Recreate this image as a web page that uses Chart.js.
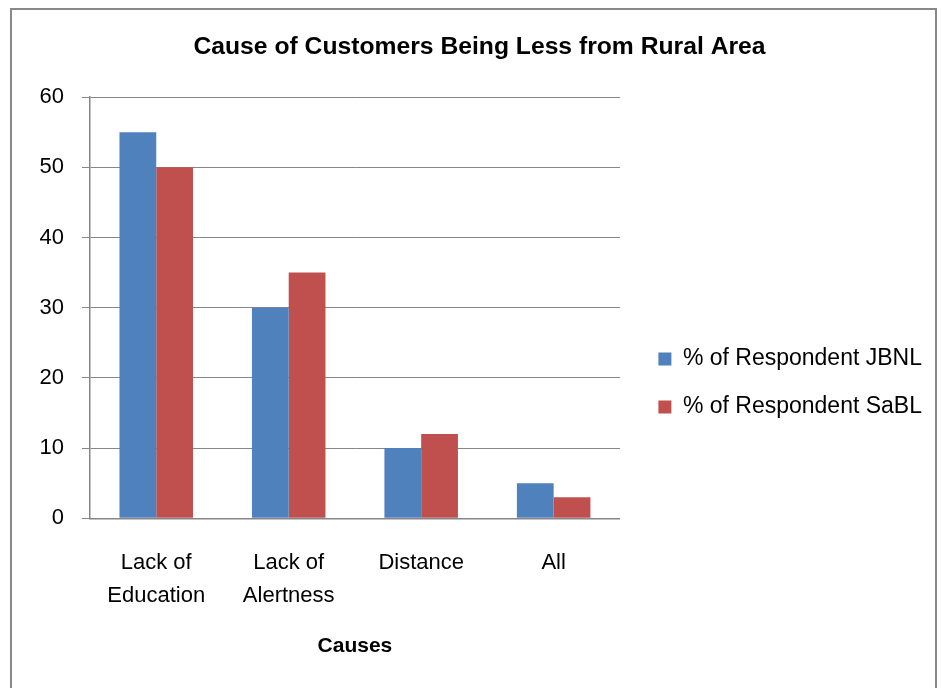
<!DOCTYPE html>
<html>
<head>
<meta charset="utf-8">
<script src="https://cdn.jsdelivr.net/npm/chart.js@4.4.0/dist/chart.umd.min.js"></script>
<style>
  body { margin: 0; background: #fff; }
  #frame { position: absolute; left: 10px; top: 8px; width: 923px; height: 700px;
           border: 2px solid #888; border-bottom: none; }
  #wrap { position: absolute; left: 0; top: 0; width: 941px; height: 688px; }
</style>
</head>
<body>
<div id="frame"></div>
<div id="wrap"><canvas id="myChart"></canvas></div>
<script>
const categories = [['Lack of', 'Education'], ['Lack of', 'Alertness'], 'Distance', 'All'];
const jbnlValues = [55, 30, 10, 5];
const sablValues = [50, 35, 12, 3];
const yTicks = [0, 10, 20, 30, 40, 50, 60];

const fontFamily = "'Liberation Sans', 'DejaVu Sans', sans-serif";

const ctx = document.getElementById('myChart').getContext('2d');

new Chart(ctx, {
    type: 'bar',
    data: {
        labels: categories,
        datasets: [{
            label: '% of Respondent JBNL',
            data: jbnlValues,
            backgroundColor: '#4F81BD',
            categoryPercentage: 0.555,
            barPercentage: 1
        }, {
            label: '% of Respondent SaBL',
            data: sablValues,
            backgroundColor: '#C0504D',
            categoryPercentage: 0.555,
            barPercentage: 1
        }]
    },
    options: {
        responsive: true,
        maintainAspectRatio: false,
        animation: false,
        layout: {
            padding: { left: 27, right: 9, top: 0, bottom: 29 }
        },
        scales: {
            x: {
                grid: { display: false, drawTicks: false },
                border: { display: true, color: '#868686', width: 1.5 },
                ticks: {
                    color: '#000',
                    font: { family: fontFamily, size: 22, lineHeight: 1.5 },
                    padding: 28,
                    maxRotation: 0
                },
                title: {
                    display: true,
                    text: 'Causes',
                    color: '#000',
                    font: { family: fontFamily, size: 21, weight: 'bold' },
                    padding: { top: -6.5, bottom: 0 }
                }
            },
            y: {
                min: 0,
                max: 60,
                afterBuildTicks: axis => {
                    axis.ticks = yTicks.map(v => ({ value: v }));
                },
                afterFit: axis => { axis.width = 63; },
                grid: { color: '#868686', tickLength: 8, lineWidth: 1 },
                border: { display: true, color: '#868686', width: 1.5 },
                ticks: {
                    color: '#000',
                    font: { family: fontFamily, size: 22 },
                    padding: 18
                }
            },
            // spacer between plot and legend
            gap: {
                type: 'linear',
                position: 'right',
                grid: { display: false, drawTicks: false },
                border: { display: false },
                ticks: { display: false },
                afterFit: axis => { axis.width = 13.5; }
            }
        },
        plugins: {
            legend: {
                position: 'right',
                maxWidth: 340,
                // empty legend title only pushes the items down
                title: {
                    display: true,
                    text: '',
                    font: { size: 10, lineHeight: 1 },
                    padding: { top: 48.5, bottom: 48.5 }
                },
                labels: {
                    color: '#000',
                    font: { family: fontFamily, size: 23 },
                    boxWidth: 13,
                    boxHeight: 13,
                    padding: 25
                }
            },
            title: {
                display: true,
                text: 'Cause of Customers Being Less from Rural Area',
                color: '#000',
                font: { family: fontFamily, size: 24.7, weight: 'bold' },
                padding: { top: 32, bottom: 35.4 }
            },
            tooltip: { enabled: false }
        }
    }
});
</script>
</body>
</html>
